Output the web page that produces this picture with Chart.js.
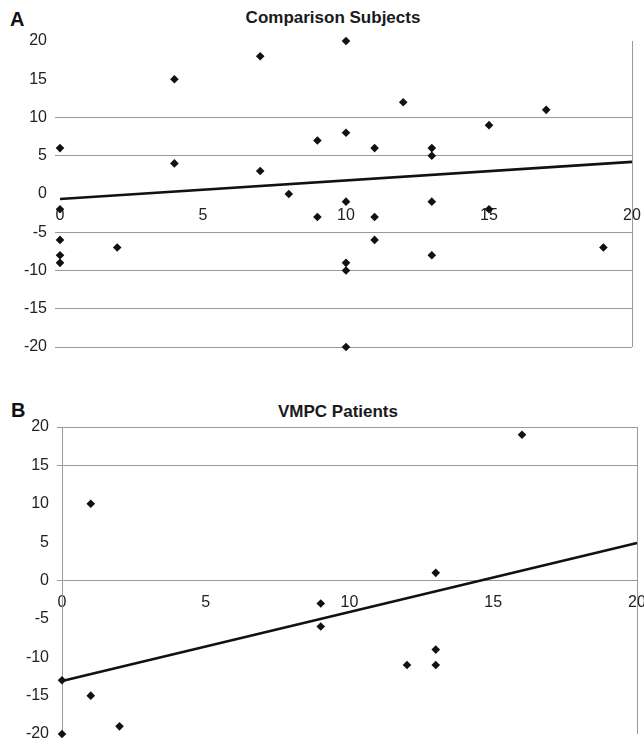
<!DOCTYPE html>
<html>
<head>
<meta charset="utf-8">
<script src="https://cdn.jsdelivr.net/npm/chart.js@4/dist/chart.umd.min.js"></script>
<style>
  html, body { margin: 0; padding: 0; background: #fff; }
  #wrap { position: relative; width: 644px; height: 742px; overflow: hidden; font-family: "Liberation Sans", Arial, sans-serif; }
  .cv { position: absolute; left: 0; }
  .title { position: absolute; font-weight: bold; font-size: 17px; color: #1a1a1a; white-space: nowrap; transform: translate(-50%, -50%); line-height: 1; }
  .panel { position: absolute; font-weight: bold; font-size: 20px; color: #111; line-height: 1; transform: translateY(-50%); }
</style>
</head>
<body>
<div id="wrap">
  <div class="panel" style="left:10px; top:19px;">A</div>
  <div class="title" style="left:333px; top:17px;">Comparison Subjects</div>
  <div class="panel" style="left:11px; top:410px;">B</div>
  <div class="title" style="left:338px; top:411px;">VMPC Patients</div>
  <canvas id="cA" class="cv" style="top:0px;" width="644" height="370"></canvas>
  <canvas id="cB" class="cv" style="top:370px;" width="644" height="372"></canvas>
</div>
<script>
// ---- Data ----
const xTickValues = [0, 5, 10, 15, 20];
const yTickValues = [-20, -15, -10, -5, 0, 5, 10, 15, 20];

// Panel A: Comparison Subjects
const compX = [0, 0, 0, 0, 0, 2, 4, 4, 7, 7, 8, 9, 9, 10, 10, 10, 10, 10, 10, 11, 11, 11, 12, 13, 13, 13, 13, 15, 15, 17, 19];
const compY = [6, -2, -6, -8, -9, -7, 15, 4, 18, 3, 0, 7, -3, 20, 8, -1, -9, -10, -20, 6, -3, -6, 12, 6, 5, -1, -8, 9, -2, 11, -7];
const compTrendX = [0, 20];
const compTrendY = [-0.65, 4.2];

// Panel B: VMPC Patients
const vmpcX = [0, 0, 1, 1, 2, 9, 9, 12, 13, 13, 13, 16];
const vmpcY = [-13, -20, 10, -15, -19, -3, -6, -11, 1, -9, -11, 19];
const vmpcTrendX = [0, 20];
const vmpcTrendY = [-13.1, 4.9];

// Gridlines visible in each panel
const gridVisibleA = [10, 5, -5, -10, -15, -20];
const gridVisibleB = [20, 15, 0];

const GRAY = '#9a9a9a';
const FONT = { family: '"Liberation Sans", Arial, sans-serif', size: 16 };

function pts(xs, ys) { return xs.map((x, i) => ({ x: x, y: ys[i] })); }

function makeChart(id, px, py, tx, ty, gridVisible, opts) {
  return new Chart(document.getElementById(id), {
    type: 'scatter',
    data: {
      datasets: [
        {
          data: pts(px, py),
          pointStyle: 'rectRot',
          pointRadius: 4.3,
          pointBackgroundColor: '#111',
          pointBorderColor: '#111',
          borderWidth: 0,
          showLine: false,
          clip: false
        },
        {
          data: pts(tx, ty),
          showLine: true,
          pointRadius: 0,
          borderColor: '#111',
          borderWidth: 2.6,
          fill: false,
          clip: false
        }
      ]
    },
    options: {
      responsive: false,
      animation: false,
      events: [],
      layout: { autoPadding: false, padding: opts.padding },
      plugins: { legend: { display: false }, title: { display: false }, tooltip: { enabled: false } },
      scales: {
        x: {
          type: 'linear',
          position: { y: 0 },
          min: 0, max: 20,
          afterBuildTicks: s => { s.ticks = xTickValues.map(v => ({ value: v })); },
          afterFit: s => { s.paddingLeft = 0; s.paddingRight = 0; },
          ticks: { font: FONT, color: '#222', padding: 12, maxRotation: 0 },
          grid: {
            drawTicks: false,
            color: c => (c.tick && c.tick.value === 20) ? GRAY : 'rgba(0,0,0,0)',
            lineWidth: 1
          },
          border: { display: false }
        },
        y: {
          type: 'linear',
          position: 'left',
          min: -20, max: 20,
          afterBuildTicks: s => { s.ticks = yTickValues.map(v => ({ value: v })); },
          afterFit: s => { s.width = opts.yWidth; s.paddingTop = 0; s.paddingBottom = 0; },
          ticks: { font: FONT, color: '#222', padding: 8 },
          grid: {
            drawTicks: true,
            tickLength: 5,
            color: c => (c.tick && gridVisible.includes(c.tick.value)) ? GRAY : 'rgba(0,0,0,0)',
            tickColor: c => (c.tick && gridVisible.includes(c.tick.value)) ? GRAY : 'rgba(0,0,0,0)',
            lineWidth: 1
          },
          border: { display: opts.yBorder, color: GRAY, width: 1 }
        }
      }
    }
  });
}

makeChart('cA', compX, compY, compTrendX, compTrendY, gridVisibleA,
  { padding: { top: 41, bottom: 23, left: 0, right: 12 }, yWidth: 60, yBorder: false });
makeChart('cB', vmpcX, vmpcY, vmpcTrendX, vmpcTrendY, gridVisibleB,
  { padding: { top: 57, bottom: 8, left: 0, right: 7 }, yWidth: 62, yBorder: true });
</script>
</body>
</html>
